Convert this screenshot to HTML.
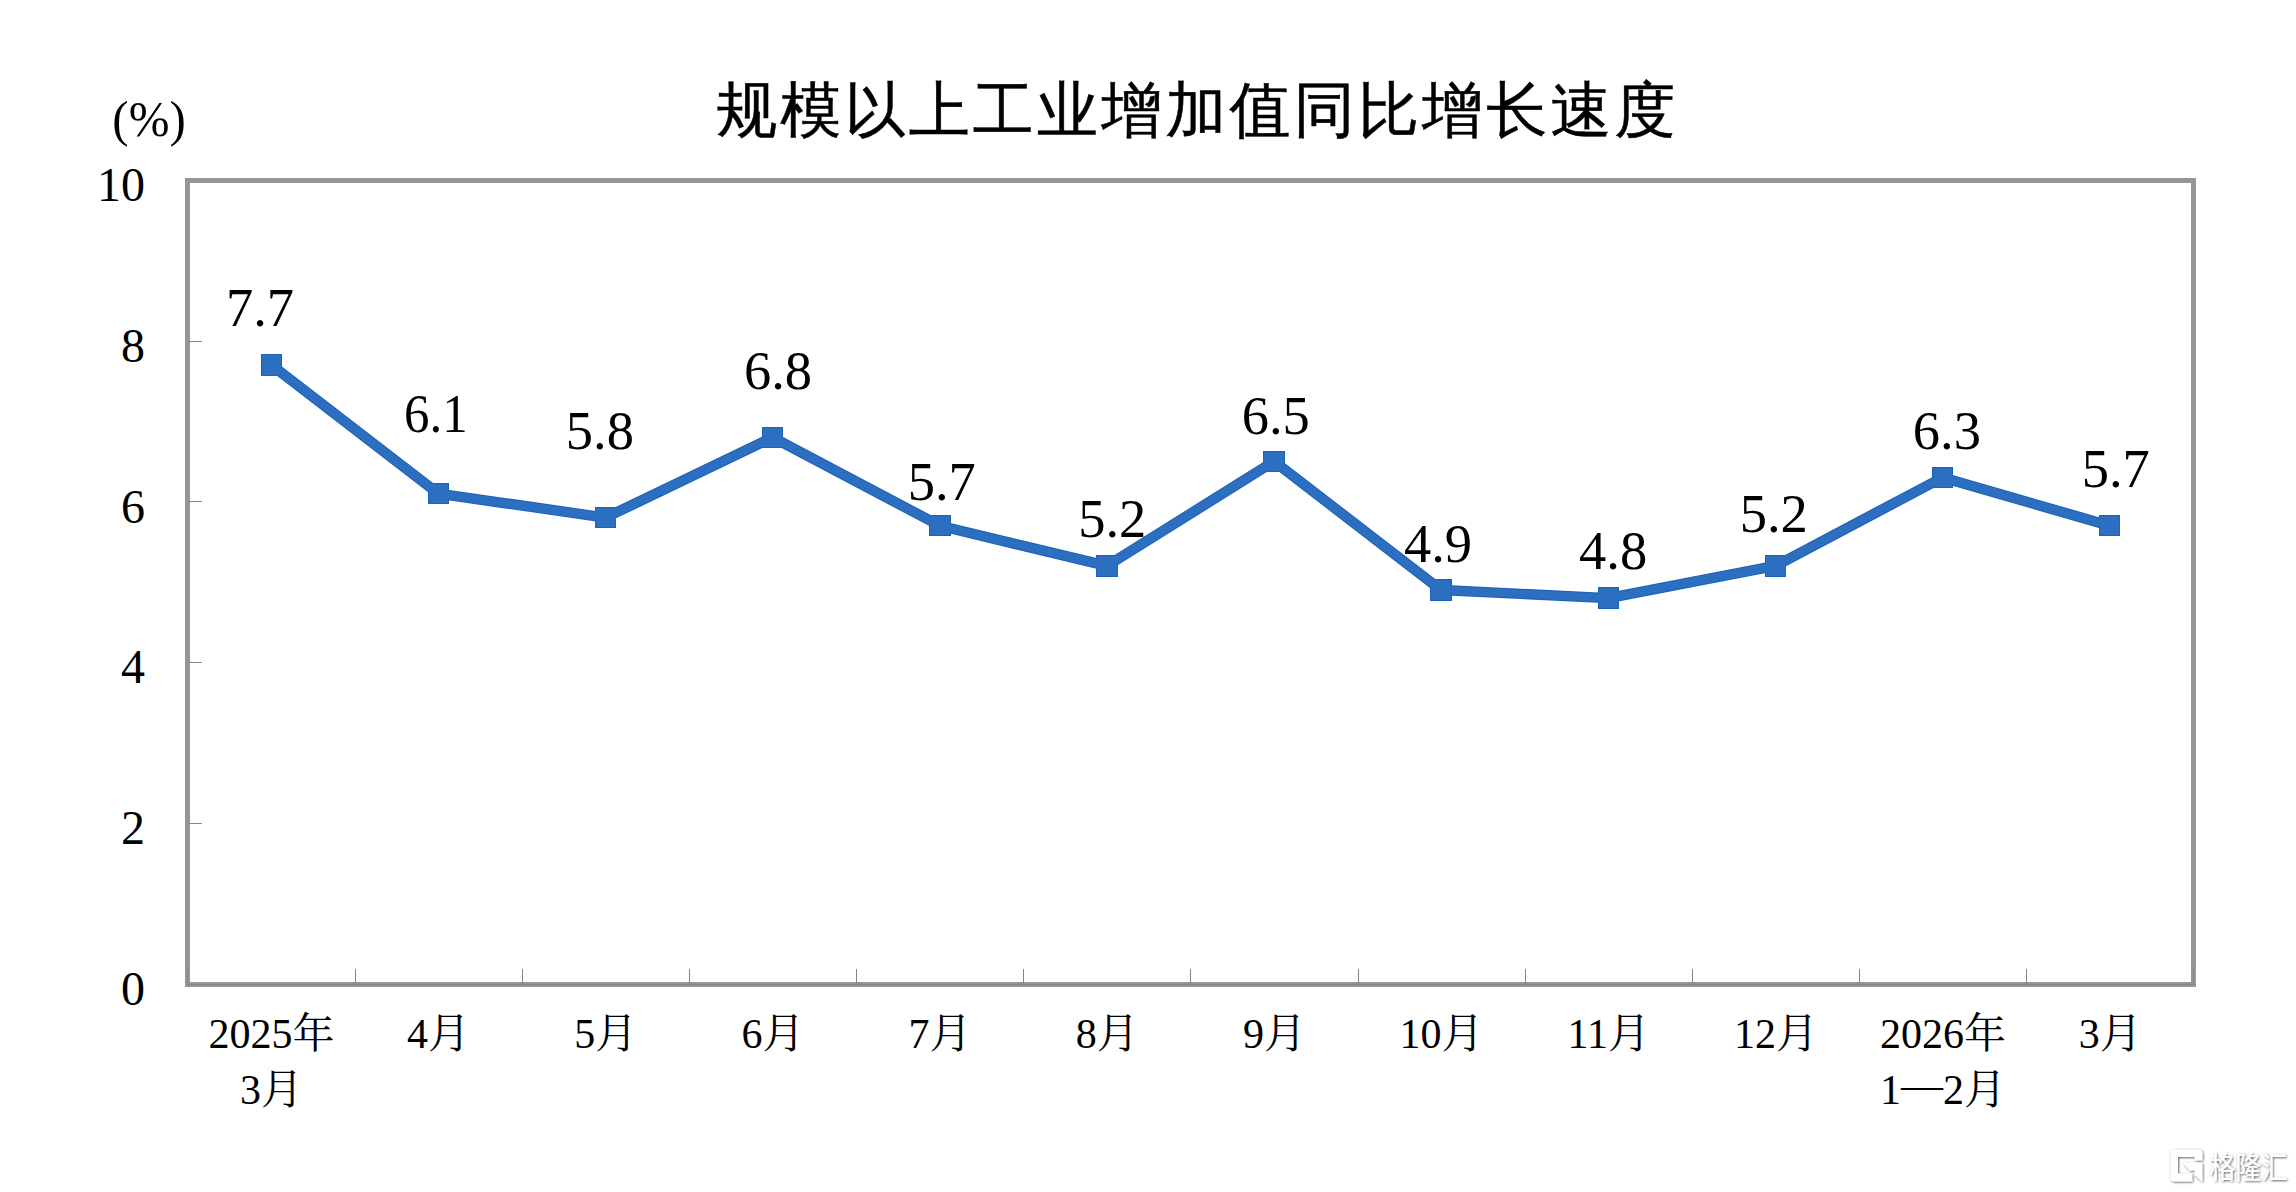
<!DOCTYPE html>
<html lang="zh-CN">
<head>
<meta charset="utf-8">
<title>规模以上工业增加值同比增长速度</title>
<style>
html,body{margin:0;padding:0;background:#fff;}
body{width:2296px;height:1192px;overflow:hidden;position:relative;}
svg{position:absolute;left:0;top:0;display:block;}
.title{font-family:"Liberation Sans","WenQuanYi Zen Hei","Noto Sans CJK SC",sans-serif;font-size:61px;letter-spacing:3.17px;fill:#000;stroke:#000;stroke-width:0.5px;}
.ax{font-family:"Liberation Serif","Noto Serif CJK SC",serif;font-size:48px;fill:#000;}
.dl{font-family:"Liberation Serif","Noto Serif CJK SC",serif;font-size:54.5px;fill:#000;}
.cat{font-family:"Liberation Serif","Noto Serif CJK SC",serif;font-size:42px;fill:#000;}
.wm{font-family:"Liberation Sans","Noto Sans CJK SC",sans-serif;font-size:28px;fill:#fff;font-weight:400;}
</style>
</head>
<body>
<svg width="2296" height="1192" viewBox="0 0 2296 1192">
<defs>
<filter id="sh" x="-20%" y="-20%" width="150%" height="150%"><feDropShadow dx="0.8" dy="0.8" stdDeviation="1" flood-color="#000" flood-opacity="0.7"/></filter>
</defs>
<rect x="0" y="0" width="2296" height="1192" fill="#fff"/>
<text class="title" x="716.2" y="130.5">规模以上工业增加值同比增长速度</text>
<text class="ax" transform="translate(149.1 135.9) scale(1 1.03)" x="0" y="0" text-anchor="middle" style="font-size:49px">(%)</text>
<g shape-rendering="crispEdges">
<rect x="187.5" y="180.5" width="2006" height="804" fill="none" stroke="#969696" stroke-width="5"/>
<rect x="187" y="984" width="2007" height="1" fill="#858585"/>
<rect x="187" y="969" width="1" height="15" fill="#858585"/>
<rect x="355" y="969" width="1" height="15" fill="#858585"/>
<rect x="522" y="969" width="1" height="15" fill="#858585"/>
<rect x="689" y="969" width="1" height="15" fill="#858585"/>
<rect x="856" y="969" width="1" height="15" fill="#858585"/>
<rect x="1023" y="969" width="1" height="15" fill="#858585"/>
<rect x="1190" y="969" width="1" height="15" fill="#858585"/>
<rect x="1358" y="969" width="1" height="15" fill="#858585"/>
<rect x="1525" y="969" width="1" height="15" fill="#858585"/>
<rect x="1692" y="969" width="1" height="15" fill="#858585"/>
<rect x="1859" y="969" width="1" height="15" fill="#858585"/>
<rect x="2026" y="969" width="1" height="15" fill="#858585"/>
<rect x="2193" y="969" width="1" height="15" fill="#858585"/>
<rect x="188" y="823" width="14" height="1" fill="#8a8a8a"/>
<rect x="188" y="662" width="14" height="1" fill="#8a8a8a"/>
<rect x="188" y="501" width="14" height="1" fill="#8a8a8a"/>
<rect x="188" y="341" width="14" height="1" fill="#8a8a8a"/>
</g>
<text class="ax" x="145" y="1005.0" text-anchor="end">0</text>
<text class="ax" x="145" y="844.2" text-anchor="end">2</text>
<text class="ax" x="145" y="683.4" text-anchor="end">4</text>
<text class="ax" x="145" y="522.6" text-anchor="end">6</text>
<text class="ax" x="145" y="361.8" text-anchor="end">8</text>
<text class="ax" x="145" y="201.0" text-anchor="end">10</text>
<polyline points="271.26,364.92 438.39,493.56 605.52,517.68 772.65,437.28 939.79,525.72 1106.91,565.92 1274.05,461.40 1441.17,590.04 1608.31,598.08 1775.43,565.92 1942.57,477.48 2109.69,525.72" fill="none" stroke="#1a62ba" stroke-width="10.4" stroke-linejoin="round"/>
<rect x="261" y="354" width="21" height="22" fill="#1a62ba" shape-rendering="crispEdges"/>
<rect x="428" y="483" width="21" height="21" fill="#1a62ba" shape-rendering="crispEdges"/>
<rect x="595" y="507" width="21" height="21" fill="#1a62ba" shape-rendering="crispEdges"/>
<rect x="762" y="427" width="21" height="21" fill="#1a62ba" shape-rendering="crispEdges"/>
<rect x="929" y="515" width="22" height="21" fill="#1a62ba" shape-rendering="crispEdges"/>
<rect x="1096" y="555" width="22" height="22" fill="#1a62ba" shape-rendering="crispEdges"/>
<rect x="1263" y="451" width="22" height="21" fill="#1a62ba" shape-rendering="crispEdges"/>
<rect x="1430" y="579" width="22" height="22" fill="#1a62ba" shape-rendering="crispEdges"/>
<rect x="1598" y="587" width="21" height="22" fill="#1a62ba" shape-rendering="crispEdges"/>
<rect x="1765" y="555" width="21" height="22" fill="#1a62ba" shape-rendering="crispEdges"/>
<rect x="1932" y="467" width="21" height="21" fill="#1a62ba" shape-rendering="crispEdges"/>
<rect x="2099" y="515" width="21" height="21" fill="#1a62ba" shape-rendering="crispEdges"/>
<polyline points="271.26,364.92 438.39,493.56 605.52,517.68 772.65,437.28 939.79,525.72 1106.91,565.92 1274.05,461.40 1441.17,590.04 1608.31,598.08 1775.43,565.92 1942.57,477.48 2109.69,525.72" fill="none" stroke="#2c6ebf" stroke-width="8.4" stroke-linejoin="round"/>
<rect x="262" y="355" width="19" height="20" fill="#2c6ebf" shape-rendering="crispEdges"/>
<rect x="429" y="484" width="19" height="19" fill="#2c6ebf" shape-rendering="crispEdges"/>
<rect x="596" y="508" width="19" height="19" fill="#2c6ebf" shape-rendering="crispEdges"/>
<rect x="763" y="428" width="19" height="19" fill="#2c6ebf" shape-rendering="crispEdges"/>
<rect x="930" y="516" width="20" height="19" fill="#2c6ebf" shape-rendering="crispEdges"/>
<rect x="1097" y="556" width="20" height="20" fill="#2c6ebf" shape-rendering="crispEdges"/>
<rect x="1264" y="452" width="20" height="19" fill="#2c6ebf" shape-rendering="crispEdges"/>
<rect x="1431" y="580" width="20" height="20" fill="#2c6ebf" shape-rendering="crispEdges"/>
<rect x="1599" y="588" width="19" height="20" fill="#2c6ebf" shape-rendering="crispEdges"/>
<rect x="1766" y="556" width="19" height="20" fill="#2c6ebf" shape-rendering="crispEdges"/>
<rect x="1933" y="468" width="19" height="19" fill="#2c6ebf" shape-rendering="crispEdges"/>
<rect x="2100" y="516" width="19" height="19" fill="#2c6ebf" shape-rendering="crispEdges"/>
<text class="dl" x="260.0" y="325.9" text-anchor="middle">7.7</text>
<text class="dl" x="435.9" y="431.6" text-anchor="middle" textLength="63.6" lengthAdjust="spacingAndGlyphs">6.1</text>
<text class="dl" x="599.9" y="448.7" text-anchor="middle">5.8</text>
<text class="dl" x="778.0" y="388.7" text-anchor="middle">6.8</text>
<text class="dl" x="941.7" y="499.6" text-anchor="middle">5.7</text>
<text class="dl" x="1112.3" y="537.2" text-anchor="middle">5.2</text>
<text class="dl" x="1275.7" y="433.7" text-anchor="middle">6.5</text>
<text class="dl" x="1438.0" y="562.4" text-anchor="middle">4.9</text>
<text class="dl" x="1613.1" y="568.7" text-anchor="middle">4.8</text>
<text class="dl" x="1773.7" y="532.1" text-anchor="middle">5.2</text>
<text class="dl" x="1946.9" y="449.0" text-anchor="middle">6.3</text>
<text class="dl" x="2115.8" y="487.3" text-anchor="middle">5.7</text>
<text class="cat" x="271.4" y="1048.2" text-anchor="middle">2025年</text>
<text class="cat" x="271.4" y="1104.0" text-anchor="middle">3月</text>
<text class="cat" x="438.6" y="1048.2" text-anchor="middle">4月</text>
<text class="cat" x="605.7" y="1048.2" text-anchor="middle">5月</text>
<text class="cat" x="772.9" y="1048.2" text-anchor="middle">6月</text>
<text class="cat" x="940.0" y="1048.2" text-anchor="middle">7月</text>
<text class="cat" x="1107.2" y="1048.2" text-anchor="middle">8月</text>
<text class="cat" x="1274.4" y="1048.2" text-anchor="middle">9月</text>
<text class="cat" x="1441.5" y="1048.2" text-anchor="middle">10月</text>
<text class="cat" x="1608.7" y="1048.2" text-anchor="middle">11月</text>
<text class="cat" x="1775.9" y="1048.2" text-anchor="middle">12月</text>
<text class="cat" x="1943.0" y="1048.2" text-anchor="middle">2026年</text>
<text class="cat" x="1943.0" y="1104.0" text-anchor="middle">1<tspan dy="-4.9">—</tspan><tspan dy="4.9">2月</tspan></text>
<text class="cat" x="2110.2" y="1048.2" text-anchor="middle">3月</text>
<g filter="url(#sh)">
<path d="M2174.5 1149.4 H2198.4 a4 4 0 0 1 4 4 V1160.6 H2194.8 V1157 H2178 V1173.6 H2192.3 V1181.5 H2174.5 a4 4 0 0 1 -4 -4 V1153.4 a4 4 0 0 1 4 -4 z" fill="#fff"/>
<path d="M2182.7 1162.7 H2202.4 V1182 L2194.8 1175 V1170.6 H2189.8 z" fill="#fff"/>
<text class="wm" transform="translate(2209.5 1178) scale(0.93 1.06)" x="0" y="0">格隆汇</text>
</g>
</svg>
</body>
</html>
